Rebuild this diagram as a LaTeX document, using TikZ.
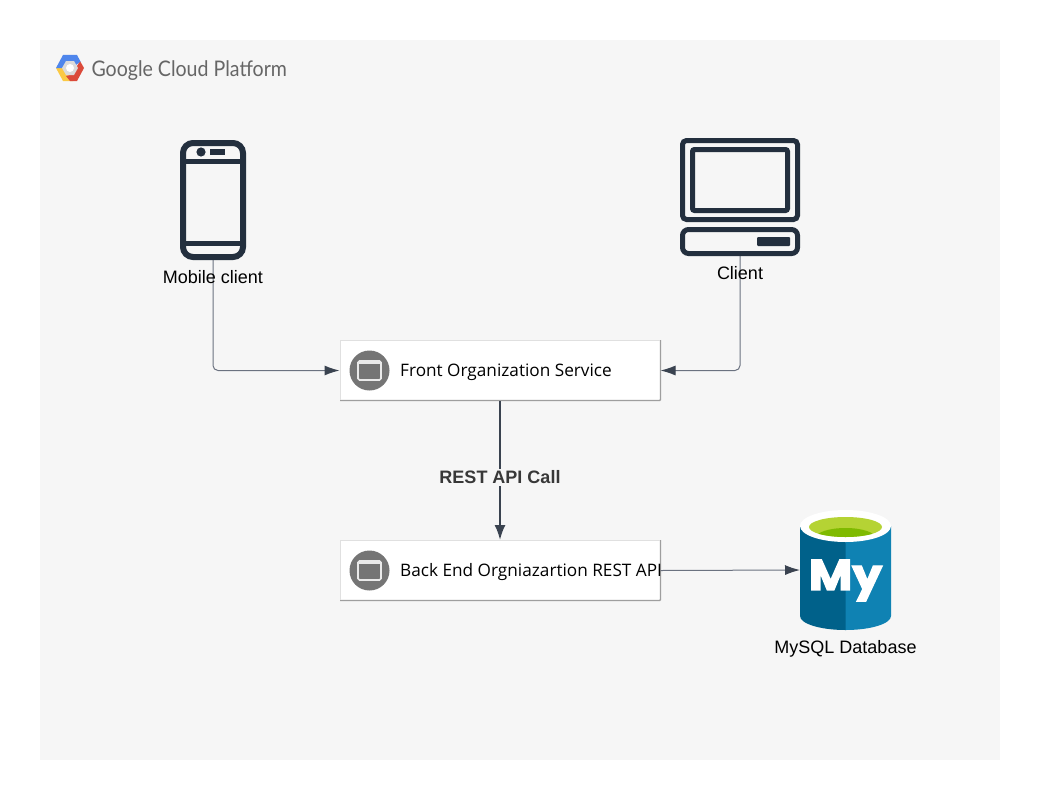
\documentclass[tikz,border=0pt]{standalone}
\usepackage{fontspec}
\setmainfont{Liberation Sans}
\newfontfamily\boxfont{Open Sans}
\newfontfamily\logofont{Lato}
\newfontfamily\myfont[BoldFeatures={FakeBold=3}]{Poppins}
\usetikzlibrary{arrows.meta,calc}
\definecolor{pagebg}{HTML}{F6F6F6}
\definecolor{icondark}{HTML}{232F3E}
\definecolor{wire}{HTML}{6B7280}
\definecolor{wiredark}{HTML}{3A4350}
\definecolor{chipgray}{HTML}{757575}
\definecolor{shadowgray}{HTML}{9E9E9E}
\definecolor{dbdark}{HTML}{00618A}
\definecolor{dblight}{HTML}{0F82B3}
\definecolor{dbgreen}{HTML}{B5D334}
\definecolor{dbgreendark}{HTML}{7FBA00}
\definecolor{logoblue}{HTML}{4F86EC}
\definecolor{logored}{HTML}{DB4A3A}
\definecolor{logoyellow}{HTML}{FBC944}
\tikzset{
  x=1pt,y=-1pt,
  holder/.style={inner sep=0pt,outer sep=0pt,draw=none,fill=none},
  iconline/.style={draw=icondark,line width=5pt,rounded corners=#1},
  iconline/.default=5pt,
  wirelink/.style={draw=wire,line width=1pt,rounded corners=5pt,-{Latex[length=15pt,width=10pt,color=wiredark]}},
  heavylink/.style={draw=wiredark,line width=2pt,-{Latex[length=15pt,width=11pt,color=wiredark]}},
  svcbox/.style={holder,minimum width=321pt,minimum height=61pt,fill=white},
  svctext/.style={anchor=west,inner sep=0pt,font=\boxfont\fontsize{17.2}{20}\selectfont,text=black},
  iconlabel/.style={inner sep=0pt,font=\fontsize{18}{21}\selectfont,text=black},
  chip/.style={circle,fill=chipgray,draw=none,minimum size=40pt,inner sep=0pt},
}
\newcommand{\svcchip}[1]{%
  \node[chip] (#1chip) at ($(#1.west)+(30,0)$) {};
  \draw[draw=white!85!chipgray,line width=1.6pt,fill=chipgray,rounded corners=1.5pt]
    ($(#1chip)+(-11.5,-9.5)$) rectangle ($(#1chip)+(11.5,9.5)$);
  \draw[draw=white!85!chipgray,line width=3pt]
    ($(#1chip)+(-11,-8)$) -- ($(#1chip)+(11,-8)$);
}
\begin{document}
\begin{tikzpicture}
\useasboundingbox (0,0) rectangle (1040,800);
\fill[white] (0,0) rectangle (1040,800);
\fill[pagebg] (40,40) rectangle (1000,760);

% logo
\fill[logoyellow] (56,68) -- (63,81) -- (73,81) -- (70,74) -- (63,68) -- cycle;
\fill[logored] (84,68) -- (77,81) -- (70,81) -- (66,76) -- (74,74) -- (77,66) -- (80,61) -- cycle;
\fill[logoblue] (56,68) -- (63,55) -- (77,55) -- (80.5,61.5) -- (76,65) -- (64,65) -- (63,68) -- cycle;
\fill[black!14] (62,68) -- (66,61) -- (74,61) -- (78,68) -- (74,75) -- (66,75) -- cycle;
\fill[white] (70,68) circle (4);
\node[holder,anchor=west,text=black!60,font=\logofont\fontsize{21.5}{24}\selectfont,xscale=.91] (logo) at (91.5,70.5) {Google Cloud Platform};

% named holders
\node[holder,minimum width=66pt,minimum height=120pt] (phone) at (213,200) {};
\node[holder,minimum width=120pt,minimum height=118pt] (computer) at (740,197) {};
\node[holder,minimum width=91pt,minimum height=120pt] (db) at (845.5,570) {};
\node[svcbox] (front) at (500,370.5) {};
\node[svcbox] (back) at (500,570.5) {};

% box edges
\draw[shadowgray,line width=1.4pt,rounded corners=1pt] (340,400.5) -- (660.5,400.5) -- (660.5,340);
\draw[black!12,line width=.6pt] (340,400) -- (340,340) -- (660,340);
\draw[shadowgray,line width=1.4pt,rounded corners=1pt] (340,600.5) -- (660.5,600.5) -- (660.5,540);
\draw[black!12,line width=.6pt] (340,600) -- (340,540) -- (660,540);

% connectors
\draw[wirelink] (phone.south) |- (front.west);
\draw[wirelink] (computer.south) |- (front.east);
\draw[heavylink] (front.south) -- (back.north);
\draw[wirelink] (back.east) -- (db.west);

% phone
\draw[draw=icondark,line width=6pt,rounded corners=10pt] (183,143) rectangle (243,257);
\draw[draw=icondark,line width=5pt] (183,161) -- (243,161);
\draw[draw=icondark,line width=5pt] (183,243) -- (243,243);
\fill[icondark] (201,152) circle (4.6);
\fill[icondark] (210,149) rectangle (225,155);

% computer
\draw[iconline=4pt] (682.5,140.5) rectangle (797.5,219.5);
\draw[iconline=2pt] (692.5,149.5) rectangle (787.5,210.5);
\draw[iconline=6pt] (682.5,229.5) rectangle (797.5,253.5);
\fill[icondark,rounded corners=1pt] (757,237) rectangle (790,246);

% database
\fill[dbdark] (800,526) -- (800,616) arc[start angle=180,end angle=90,x radius=45.5,y radius=14] -- (846,630) -- (846,526) -- cycle;
\fill[dblight] (891,526) -- (891,616) arc[start angle=0,end angle=90,x radius=45.5,y radius=14] -- (845.5,526) -- cycle;
\fill[white] (845.5,526) ellipse [x radius=45.5,y radius=16];
\fill[dbgreen] (845.5,527) ellipse [x radius=36.5,y radius=10];
\begin{scope}
\clip (845.5,527) ellipse [x radius=36.5,y radius=10];
\fill[dbgreendark] (845.5,538) ellipse [x radius=30,y radius=10];
\end{scope}
\node[inner sep=0pt,text=white,font=\myfont\bfseries\fontsize{43}{43}\selectfont,xscale=1.1] (mylogo) at (845.5,580.5) {My};

% service contents
\svcchip{front}
\svcchip{back}
\node[svctext] (fronttext) at (400,372) {Front Organization Service};
\node[svctext] (backtext) at (400,572) {Back End Orgniazartion REST API};

% labels
\node[iconlabel] (phonelabel) at (213,277) {Mobile client};
\node[iconlabel] (computerlabel) at (740,273) {Client};
\node[iconlabel] (dblabel) at (845.5,649) {MySQL Database};
\node[fill=pagebg,inner sep=2pt,text=black!78,font=\bfseries\fontsize{18}{21}\selectfont] (apilabel) at (500,477.5) {REST API Call};
\end{tikzpicture}
\end{document}
